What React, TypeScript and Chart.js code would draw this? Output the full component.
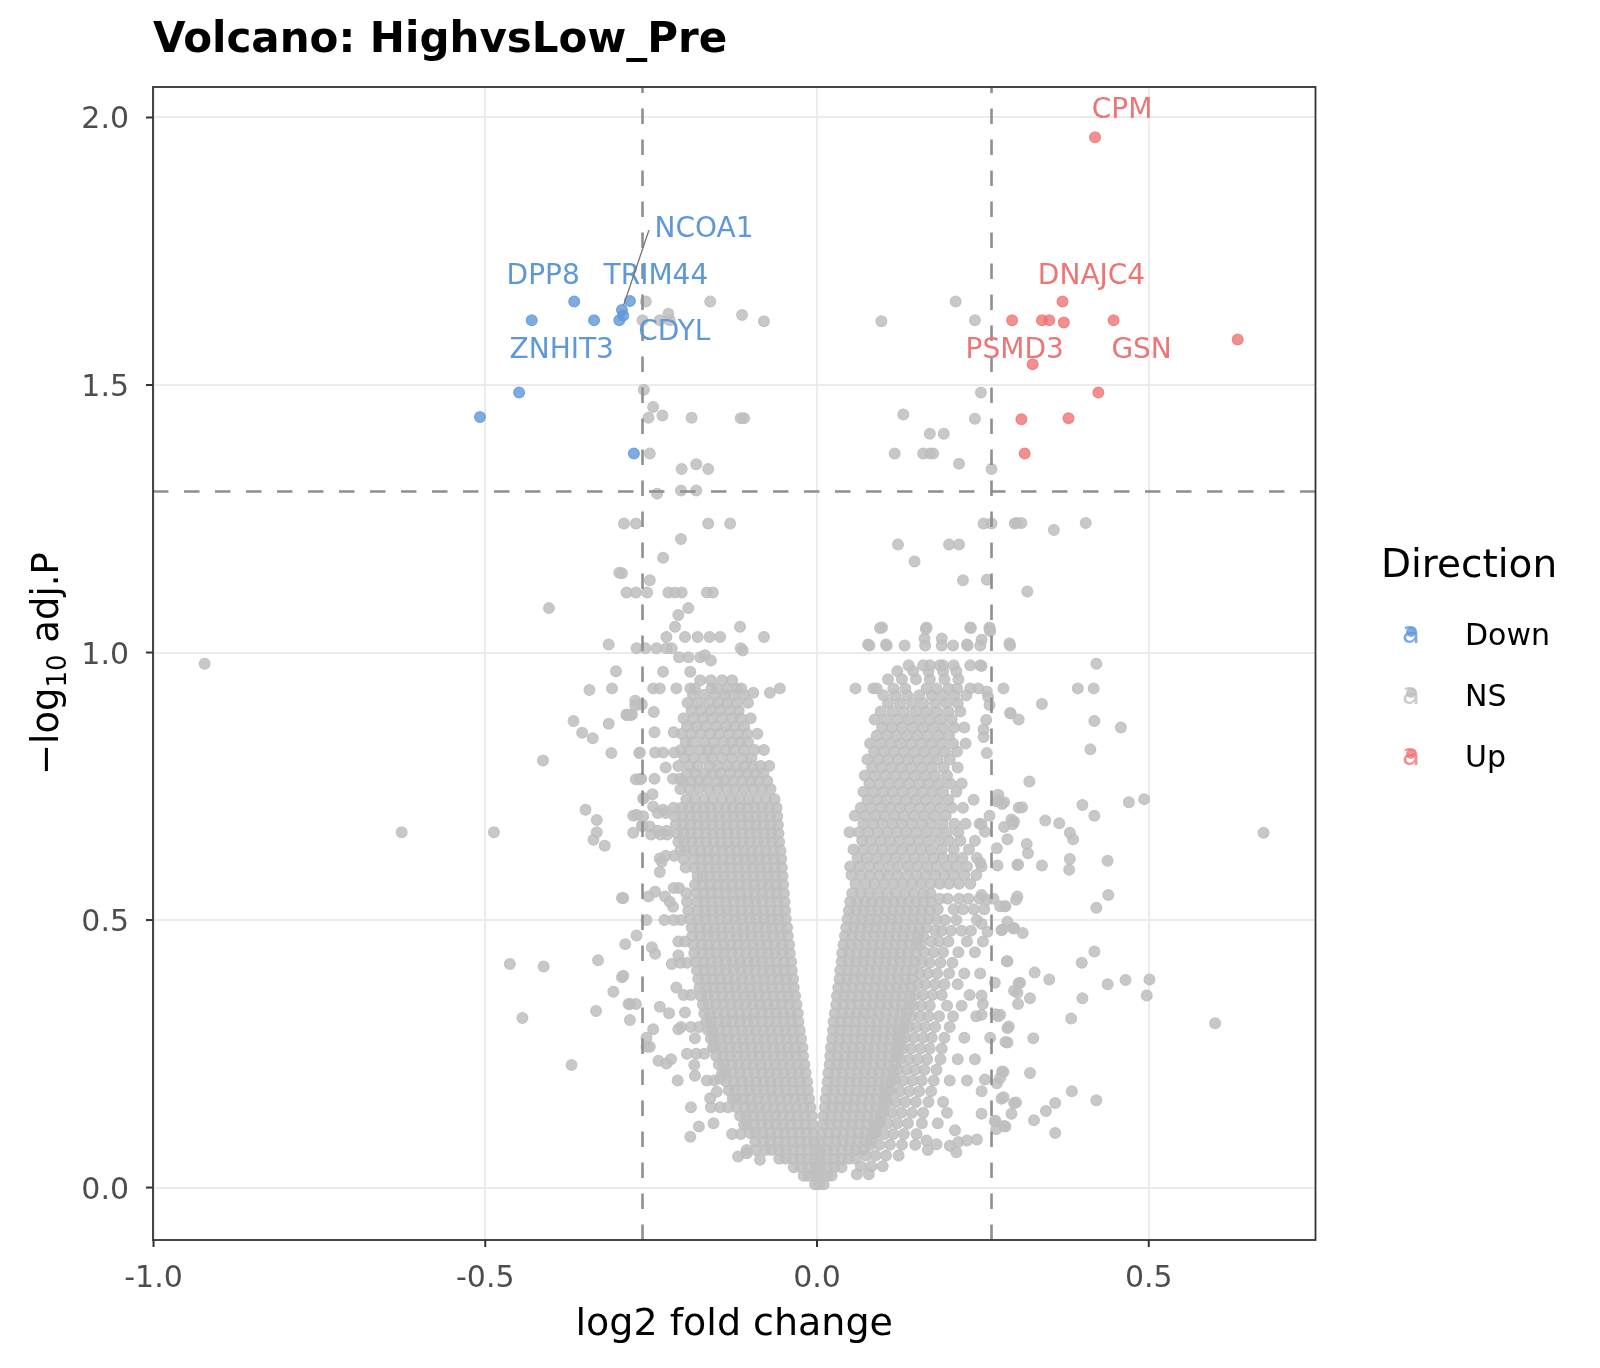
import React, { useEffect, useRef } from "react";
import { Chart, registerables } from "chart.js";

Chart.register(...registerables);

const CANVAS_W = 1600;
const CANVAS_H = 1368;

const plotTitle = "Volcano: HighvsLow_Pre";
const xAxisTitle = "log2 fold change";
const legendTitle = "Direction";
const directionLevels = ["Down", "NS", "Up"];

const xRange = [-1.0008, 0.7513];
const yRange = [-0.098, 2.057];
const xTickValues = [-1.0, -0.5, 0.0, 0.5];
const yTickValues = [0.0, 0.5, 1.0, 1.5, 2.0];

const log2FcCutoff = 0.263;
const adjPCutoff = 1.301;

// significant genes: [log2 fold change, -log10 adj.P]
const downPoints: [number, number][] = [
  [-0.366, 1.656], [-0.430, 1.621], [-0.336, 1.621], [-0.298, 1.621], [-0.294, 1.640],
  [-0.292, 1.630], [-0.282, 1.657], [-0.449, 1.486], [-0.508, 1.440], [-0.276, 1.372],
];
const upPoints: [number, number][] = [
  [0.419, 1.963], [0.370, 1.656], [0.294, 1.621], [0.339, 1.621], [0.350, 1.621],
  [0.372, 1.617], [0.447, 1.621], [0.634, 1.585], [0.325, 1.539], [0.424, 1.486],
  [0.379, 1.438], [0.308, 1.436], [0.313, 1.372],
];

// labelled genes and the point each one names
const labelGenes = ["DPP8", "ZNHIT3", "TRIM44", "NCOA1", "CDYL", "CPM", "DNAJC4", "PSMD3", "GSN"];
const labelDirection = ["Down", "Down", "Down", "Down", "Down", "Up", "Up", "Up", "Up"];
const labelPointIndex = [0, 1, 6, 4, 3, 0, 1, 8, 6];

// non-significant genes, scattered ones: [log2 fold change, -log10 adj.P]
const nsScatter: [number, number][] = [
  [-0.258, 1.656], [-0.161, 1.656], [-0.224, 1.633], [-0.237, 1.621], [-0.222, 1.621], [-0.263, 1.621],
  [-0.113, 1.631], [-0.080, 1.619], [0.097, 1.619], [0.209, 1.656], [0.238, 1.621],
  [-0.261, 1.491], [-0.247, 1.459], [-0.254, 1.439], [-0.233, 1.443], [-0.189, 1.439], [-0.115, 1.438],
  [-0.110, 1.438], [-0.252, 1.372], [-0.204, 1.343], [-0.182, 1.352], [-0.164, 1.343],
  [0.247, 1.486], [0.130, 1.445], [0.238, 1.437], [0.170, 1.409], [0.191, 1.409], [0.117, 1.372],
  [0.160, 1.372], [0.170, 1.372], [0.175, 1.372], [0.214, 1.353], [0.263, 1.343],
  [-0.241, 1.297], [-0.205, 1.303], [-0.182, 1.303],
  [-0.291, 1.241], [-0.273, 1.241], [-0.164, 1.241], [-0.131, 1.241], [-0.205, 1.212], [-0.232, 1.177],
  [-0.294, 1.148], [-0.252, 1.135], [-0.287, 1.112], [-0.273, 1.112], [-0.256, 1.112], [-0.224, 1.112],
  [-0.214, 1.112], [-0.204, 1.112], [-0.166, 1.112], [-0.157, 1.112], [-0.194, 1.083], [-0.209, 1.070],
  [-0.214, 1.048], [-0.116, 1.048], [-0.227, 1.029], [-0.199, 1.029], [-0.180, 1.029], [-0.162, 1.029],
  [-0.146, 1.029], [-0.080, 1.029], [-0.272, 1.008], [-0.259, 1.008], [-0.242, 1.008], [-0.227, 1.008],
  [-0.219, 1.008], [-0.115, 1.008], [-0.112, 1.004], [-0.208, 0.991], [-0.194, 0.991], [-0.176, 0.991],
  [-0.169, 0.995], [-0.160, 0.985], [-0.232, 0.964], [-0.191, 0.964],
  [-0.247, 0.933], [-0.237, 0.933], [-0.212, 0.933], [-0.191, 0.933], [-0.184, 0.933], [-0.159, 0.933],
  [-0.151, 0.933], [-0.136, 0.933], [-0.121, 0.933], [-0.114, 0.933], [-0.096, 0.925], [-0.071, 0.925],
  [-0.056, 0.933],
  [-0.923, 0.979], [-0.404, 1.083], [-0.298, 1.149], [-0.314, 1.015], [-0.303, 0.965], [-0.343, 0.930],
  [-0.309, 0.933], [-0.287, 0.883], [-0.281, 0.883], [-0.264, 0.903], [-0.367, 0.872], [-0.354, 0.850],
  [-0.338, 0.840], [-0.314, 0.867], [-0.413, 0.798], [-0.310, 0.812], [-0.268, 0.812], [-0.273, 0.763],
  [-0.267, 0.763], [-0.262, 0.727], [-0.349, 0.706], [-0.332, 0.687], [-0.332, 0.664], [-0.337, 0.650],
  [-0.320, 0.639], [-0.626, 0.664], [-0.487, 0.664], [-0.277, 0.695], [-0.264, 0.677], [-0.277, 0.663],
  [-0.294, 0.541], [-0.272, 0.471], [-0.289, 0.455], [-0.463, 0.418], [-0.412, 0.413], [-0.330, 0.425],
  [-0.294, 0.393], [-0.307, 0.366], [-0.282, 0.343], [-0.273, 0.343], [-0.282, 0.313], [-0.333, 0.330],
  [-0.444, 0.317], [-0.370, 0.229], [-0.257, 0.280], [-0.257, 0.263],
  [-0.287, 0.884], [-0.279, 0.884], [-0.274, 0.910], [-0.274, 0.901], [-0.246, 0.889], [-0.245, 0.851],
  [-0.216, 0.851], [-0.267, 0.813], [-0.244, 0.813], [-0.232, 0.813], [-0.215, 0.813], [-0.228, 0.785],
  [-0.265, 0.764], [-0.245, 0.764], [-0.217, 0.764], [-0.207, 0.764], [-0.261, 0.728], [-0.248, 0.735],
  [-0.247, 0.712], [-0.232, 0.706], [-0.272, 0.697], [-0.262, 0.694], [-0.252, 0.675], [-0.263, 0.675],
  [-0.240, 0.667], [-0.227, 0.667], [-0.237, 0.615], [-0.234, 0.609], [-0.237, 0.590], [-0.292, 0.541],
  [-0.254, 0.544], [-0.244, 0.553], [-0.229, 0.544], [-0.222, 0.534], [-0.217, 0.525], [-0.257, 0.500],
  [-0.249, 0.449], [-0.244, 0.437], [-0.219, 0.418], [-0.209, 0.434], [-0.292, 0.396], [-0.212, 0.374],
  [-0.284, 0.343], [-0.237, 0.338], [-0.223, 0.326], [-0.199, 0.327], [-0.209, 0.296], [-0.247, 0.296],
  [-0.252, 0.263], [-0.239, 0.237], [-0.227, 0.232], [-0.184, 0.279], [-0.185, 0.229], [-0.184, 0.209],
  [-0.161, 0.167], [-0.151, 0.179], [-0.146, 0.204], [-0.191, 0.095], [-0.178, 0.114], [-0.156, 0.120],
  [-0.119, 0.058], [-0.106, 0.064], [-0.086, 0.052], [-0.220, 0.240], [-0.210, 0.200], [-0.190, 0.150],
  [0.256, 1.136], [0.317, 1.114], [0.260, 1.044], [0.248, 1.024], [0.290, 1.017], [0.248, 0.975],
  [0.421, 0.979], [0.281, 0.933], [0.393, 0.933], [0.417, 0.933], [0.256, 0.927], [0.258, 0.917],
  [0.339, 0.904], [0.260, 0.902], [0.291, 0.887], [0.304, 0.875], [0.418, 0.872], [0.458, 0.860],
  [0.255, 0.874], [0.251, 0.856], [0.251, 0.842], [0.412, 0.819], [0.256, 0.812], [0.320, 0.759],
  [0.273, 0.734], [0.270, 0.722], [0.282, 0.720], [0.309, 0.711], [0.400, 0.715], [0.470, 0.720],
  [0.493, 0.726], [0.418, 0.695], [0.673, 0.663], [0.260, 0.695], [0.248, 0.679], [0.293, 0.688],
  [0.295, 0.679], [0.282, 0.674], [0.344, 0.686], [0.365, 0.681], [0.253, 0.665], [0.381, 0.663],
  [0.386, 0.651], [0.287, 0.651], [0.316, 0.642], [0.318, 0.625], [0.271, 0.634], [0.381, 0.614],
  [0.380, 0.594], [0.438, 0.611], [0.246, 0.607], [0.272, 0.602], [0.303, 0.604], [0.339, 0.602],
  [0.439, 0.547], [0.421, 0.523], [0.248, 0.547], [0.256, 0.538], [0.266, 0.540], [0.276, 0.526],
  [0.283, 0.526], [0.300, 0.538], [0.248, 0.493], [0.257, 0.478], [0.278, 0.481], [0.287, 0.497],
  [0.296, 0.484], [0.310, 0.476], [0.418, 0.441], [0.399, 0.420], [0.286, 0.423], [0.328, 0.402],
  [0.350, 0.389], [0.306, 0.383], [0.297, 0.368], [0.268, 0.383], [0.438, 0.380], [0.465, 0.388],
  [0.501, 0.389], [0.497, 0.359], [0.321, 0.354], [0.303, 0.343], [0.400, 0.354], [0.600, 0.307],
  [0.383, 0.316], [0.276, 0.323], [0.273, 0.320], [0.287, 0.298], [0.248, 0.359], [0.250, 0.343],
  [0.248, 0.323], [0.261, 0.280], [0.287, 0.271], [0.326, 0.279], [0.281, 0.216], [0.276, 0.205],
  [0.321, 0.214], [0.253, 0.202], [0.248, 0.180], [0.384, 0.180], [0.421, 0.163], [0.278, 0.166],
  [0.300, 0.159], [0.359, 0.158], [0.345, 0.143], [0.293, 0.138], [0.327, 0.126], [0.359, 0.102],
  [0.268, 0.124], [0.282, 0.115], [0.270, 0.109], [0.248, 0.138],
  [0.292, 0.886], [0.274, 0.724], [0.279, 0.717], [0.304, 0.710], [0.297, 0.684], [0.302, 0.603],
  [0.284, 0.526], [0.302, 0.544], [0.279, 0.482], [0.297, 0.485], [0.287, 0.423], [0.304, 0.382],
  [0.302, 0.364], [0.269, 0.324], [0.289, 0.301], [0.284, 0.272], [0.279, 0.217], [0.271, 0.195],
  [0.281, 0.169], [0.297, 0.158], [0.269, 0.125], [0.284, 0.114],
  [0.165, 0.088], [0.167, 0.070], [0.180, 0.081], [0.208, 0.107], [0.213, 0.085], [0.226, 0.088],
  [0.241, 0.090], [0.200, 0.078], [0.210, 0.066],
  [0.357, 1.229], [0.405, 1.242], [0.301, 1.242], [0.308, 1.242], [0.298, 1.241], [0.251, 1.241],
  [0.263, 1.241], [0.122, 1.202], [0.199, 1.202], [0.214, 1.202], [0.147, 1.170], [0.220, 1.135],
  [0.098, 1.047], [0.165, 1.047], [0.231, 1.047], [0.260, 1.047],
  [0.079, 1.013], [0.105, 1.013], [0.132, 1.013], [0.163, 1.013], [0.188, 1.013], [0.205, 1.013],
  [0.227, 1.013], [0.246, 1.013], [0.291, 1.013],
  [0.138, 0.976], [0.160, 0.976], [0.170, 0.976], [0.185, 0.976], [0.190, 0.976], [0.206, 0.976],
  [0.231, 0.976], [0.246, 0.976],
  [0.058, 0.933], [0.085, 0.933], [0.090, 0.933], [0.115, 0.933], [0.133, 0.933], [0.165, 0.933],
  [0.180, 0.933], [0.198, 0.933], [0.211, 0.933], [0.231, 0.933], [0.243, 0.933],
  [0.095, 1.046], [0.077, 1.015], [0.104, 1.015], [0.164, 1.044], [0.162, 1.026], [0.188, 1.026],
  [0.226, 1.015], [0.232, 1.046], [0.261, 1.040],
];

// dense non-significant genes, one row per -log10 adj.P level: [y, x, x, ...]
const nsLeftArmRows: number[][] = [
  [0.006, -0.003],
  [0.022, -0.002, -0.013, -0.020],
  [0.038, -0.002, -0.013, -0.024, -0.035],
  [0.054, -0.003, -0.014, -0.025, -0.036, -0.047, -0.057],
  [0.070, -0.003, -0.014, -0.025, -0.036, -0.047, -0.058, -0.069, -0.078],
  [0.086, -0.004, -0.015, -0.026, -0.037, -0.048, -0.059, -0.070, -0.081, -0.093],
  [0.102, -0.005, -0.016, -0.027, -0.038, -0.049, -0.060, -0.071, -0.082, -0.093, -0.101],
  [0.118, -0.007, -0.018, -0.029, -0.040, -0.051, -0.062, -0.073, -0.084, -0.095, -0.106, -0.110],
  [0.134, -0.008, -0.019, -0.030, -0.041, -0.052, -0.063, -0.074, -0.085, -0.096, -0.107, -0.116],
  [0.150, -0.010, -0.021, -0.032, -0.043, -0.054, -0.065, -0.076, -0.087, -0.098, -0.109, -0.121],
  [0.166, -0.012, -0.023, -0.034, -0.045, -0.056, -0.067, -0.078, -0.089, -0.100, -0.111, -0.122, -0.127],
  [0.182, -0.014, -0.025, -0.036, -0.047, -0.058, -0.069, -0.080, -0.091, -0.102, -0.113, -0.124, -0.133],
  [0.198, -0.015, -0.026, -0.037, -0.048, -0.059, -0.070, -0.081, -0.092, -0.103, -0.114, -0.125, -0.137],
  [0.214, -0.017, -0.028, -0.039, -0.050, -0.061, -0.072, -0.083, -0.094, -0.105, -0.116, -0.127, -0.138, -0.143],
  [0.230, -0.019, -0.030, -0.041, -0.052, -0.063, -0.074, -0.085, -0.096, -0.107, -0.118, -0.129, -0.140, -0.148],
  [0.246, -0.021, -0.032, -0.043, -0.054, -0.065, -0.076, -0.087, -0.098, -0.109, -0.120, -0.131, -0.142, -0.152],
  [0.262, -0.022, -0.033, -0.044, -0.055, -0.066, -0.077, -0.088, -0.099, -0.110, -0.121, -0.132, -0.143, -0.154, -0.157],
  [0.278, -0.024, -0.035, -0.046, -0.057, -0.068, -0.079, -0.090, -0.101, -0.112, -0.123, -0.134, -0.145, -0.156, -0.160],
  [0.294, -0.026, -0.037, -0.048, -0.059, -0.070, -0.081, -0.092, -0.103, -0.114, -0.125, -0.136, -0.147, -0.158, -0.164],
  [0.310, -0.028, -0.039, -0.050, -0.061, -0.072, -0.083, -0.094, -0.105, -0.116, -0.127, -0.138, -0.149, -0.160, -0.167],
  [0.326, -0.029, -0.040, -0.051, -0.062, -0.073, -0.084, -0.095, -0.106, -0.117, -0.128, -0.139, -0.150, -0.161, -0.170],
  [0.342, -0.031, -0.042, -0.053, -0.064, -0.075, -0.086, -0.097, -0.108, -0.119, -0.130, -0.141, -0.152, -0.163, -0.172],
  [0.358, -0.033, -0.044, -0.055, -0.066, -0.077, -0.088, -0.099, -0.110, -0.121, -0.132, -0.143, -0.154, -0.165, -0.175],
  [0.374, -0.035, -0.046, -0.057, -0.068, -0.079, -0.090, -0.101, -0.112, -0.123, -0.134, -0.145, -0.156, -0.167, -0.177],
  [0.390, -0.036, -0.047, -0.058, -0.069, -0.080, -0.091, -0.102, -0.113, -0.124, -0.135, -0.146, -0.157, -0.168, -0.179],
  [0.406, -0.038, -0.049, -0.060, -0.071, -0.082, -0.093, -0.104, -0.115, -0.126, -0.137, -0.148, -0.159, -0.170, -0.181],
  [0.422, -0.039, -0.050, -0.061, -0.072, -0.083, -0.094, -0.105, -0.116, -0.127, -0.138, -0.149, -0.160, -0.171, -0.183],
  [0.438, -0.041, -0.052, -0.063, -0.074, -0.085, -0.096, -0.107, -0.118, -0.129, -0.140, -0.151, -0.162, -0.173, -0.185],
  [0.454, -0.042, -0.053, -0.064, -0.075, -0.086, -0.097, -0.108, -0.119, -0.130, -0.141, -0.152, -0.163, -0.174, -0.186],
  [0.470, -0.044, -0.055, -0.066, -0.077, -0.088, -0.099, -0.110, -0.121, -0.132, -0.143, -0.154, -0.165, -0.176, -0.188],
  [0.486, -0.045, -0.056, -0.067, -0.078, -0.089, -0.100, -0.111, -0.122, -0.133, -0.144, -0.155, -0.166, -0.177, -0.189],
  [0.502, -0.047, -0.058, -0.069, -0.080, -0.091, -0.102, -0.113, -0.124, -0.135, -0.146, -0.157, -0.168, -0.179, -0.192],
  [0.518, -0.048, -0.059, -0.070, -0.081, -0.092, -0.103, -0.114, -0.125, -0.136, -0.147, -0.158, -0.169, -0.180, -0.194],
  [0.534, -0.049, -0.060, -0.071, -0.082, -0.093, -0.104, -0.115, -0.126, -0.137, -0.148, -0.159, -0.170, -0.181, -0.196],
  [0.550, -0.050, -0.061, -0.072, -0.083, -0.094, -0.105, -0.116, -0.127, -0.138, -0.149, -0.160, -0.171, -0.182, -0.197],
  [0.566, -0.051, -0.062, -0.073, -0.084, -0.095, -0.106, -0.117, -0.128, -0.139, -0.150, -0.161, -0.172, -0.184],
  [0.582, -0.052, -0.063, -0.074, -0.085, -0.096, -0.107, -0.118, -0.129, -0.140, -0.151, -0.162, -0.173, -0.180],
  [0.598, -0.053, -0.064, -0.075, -0.086, -0.097, -0.108, -0.119, -0.130, -0.141, -0.152, -0.163, -0.174, -0.185, -0.198],
  [0.614, -0.054, -0.065, -0.076, -0.087, -0.098, -0.109, -0.120, -0.131, -0.142, -0.153, -0.164, -0.175, -0.186, -0.201],
  [0.630, -0.055, -0.066, -0.077, -0.088, -0.099, -0.110, -0.121, -0.132, -0.143, -0.154, -0.165, -0.176, -0.187, -0.198, -0.206],
  [0.646, -0.057, -0.068, -0.079, -0.090, -0.101, -0.112, -0.123, -0.134, -0.145, -0.156, -0.167, -0.178, -0.189, -0.200, -0.209],
  [0.662, -0.058, -0.069, -0.080, -0.091, -0.102, -0.113, -0.124, -0.135, -0.146, -0.157, -0.168, -0.179, -0.190, -0.201, -0.211],
  [0.678, -0.059, -0.070, -0.081, -0.092, -0.103, -0.114, -0.125, -0.136, -0.147, -0.158, -0.169, -0.180, -0.191, -0.202, -0.213],
  [0.694, -0.060, -0.071, -0.082, -0.093, -0.104, -0.115, -0.126, -0.137, -0.148, -0.159, -0.170, -0.181, -0.192, -0.203, -0.214],
  [0.710, -0.061, -0.072, -0.083, -0.094, -0.105, -0.116, -0.127, -0.138, -0.149, -0.160, -0.171, -0.182, -0.193, -0.204, -0.216],
  [0.726, -0.064, -0.077, -0.090, -0.103, -0.117, -0.130, -0.143, -0.157, -0.170, -0.184, -0.197],
];

const nsLeftUpperRows: number[][] = [
  [0.745, -0.070, -0.083, -0.096, -0.110, -0.124, -0.136, -0.150, -0.163, -0.178, -0.192, -0.206],
  [0.760, -0.203, -0.190, -0.178, -0.166, -0.150, -0.139, -0.126, -0.112, -0.100, -0.088, -0.075],
  [0.774, -0.196, -0.183, -0.170, -0.158, -0.146, -0.131, -0.118, -0.105, -0.093, -0.081],
  [0.788, -0.209, -0.192, -0.180, -0.162, -0.150, -0.135, -0.121, -0.109, -0.097, -0.085, -0.072],
  [0.803, -0.200, -0.186, -0.171, -0.159, -0.143, -0.128, -0.112, -0.099],
  [0.818, -0.205, -0.193, -0.176, -0.164, -0.153, -0.137, -0.125, -0.110, -0.094, -0.080],
  [0.833, -0.198, -0.187, -0.170, -0.156, -0.141, -0.128, -0.116, -0.104],
  [0.848, -0.204, -0.190, -0.175, -0.161, -0.148, -0.133, -0.119, -0.106, -0.090],
  [0.862, -0.196, -0.182, -0.168, -0.152, -0.137, -0.124, -0.110],
  [0.877, -0.201, -0.186, -0.172, -0.158, -0.143, -0.128, -0.115, -0.100],
  [0.892, -0.189, -0.175, -0.160, -0.146, -0.131, -0.118],
  [0.906, -0.195, -0.180, -0.163, -0.149, -0.135, -0.121, -0.104],
  [0.921, -0.187, -0.170, -0.153, -0.139, -0.125, -0.110],
  [0.948, -0.176, -0.160, -0.143, -0.128],
];

const nsLeftFringeRows: number[][] = [
  [0.700, -0.228, -0.240],
  [0.660, -0.226, -0.236, -0.250],
  [0.620, -0.215, -0.228],
  [0.560, -0.208, -0.216],
  [0.500, -0.205, -0.216, -0.230],
  [0.460, -0.199, -0.209],
  [0.420, -0.196, -0.206],
  [0.360, -0.190, -0.201],
  [0.300, -0.178, -0.190, -0.205],
  [0.250, -0.170, -0.182, -0.196],
  [0.200, -0.155, -0.166],
  [0.150, -0.134, -0.146, -0.160],
  [0.100, -0.115, -0.128],
  [0.070, -0.092, -0.106],
];

const nsRightArmRows: number[][] = [
  [0.006, 0.003, 0.010],
  [0.022, 0.004, 0.015, 0.022],
  [0.038, 0.004, 0.015, 0.026, 0.037],
  [0.054, 0.004, 0.015, 0.026, 0.037, 0.048, 0.058],
  [0.070, 0.004, 0.015, 0.026, 0.037, 0.048, 0.059, 0.070],
  [0.086, 0.006, 0.017, 0.028, 0.039, 0.050, 0.061, 0.072, 0.081],
  [0.102, 0.007, 0.018, 0.029, 0.040, 0.051, 0.062, 0.073, 0.084, 0.088],
  [0.118, 0.009, 0.020, 0.031, 0.042, 0.053, 0.064, 0.075, 0.086, 0.092],
  [0.134, 0.010, 0.021, 0.032, 0.043, 0.054, 0.065, 0.076, 0.087, 0.096],
  [0.150, 0.012, 0.023, 0.034, 0.045, 0.056, 0.067, 0.078, 0.089, 0.100],
  [0.166, 0.013, 0.024, 0.035, 0.046, 0.057, 0.068, 0.079, 0.090, 0.101, 0.104],
  [0.182, 0.015, 0.026, 0.037, 0.048, 0.059, 0.070, 0.081, 0.092, 0.103, 0.108],
  [0.198, 0.016, 0.027, 0.038, 0.049, 0.060, 0.071, 0.082, 0.093, 0.104, 0.112],
  [0.214, 0.017, 0.028, 0.039, 0.050, 0.061, 0.072, 0.083, 0.094, 0.105, 0.115],
  [0.230, 0.019, 0.030, 0.041, 0.052, 0.063, 0.074, 0.085, 0.096, 0.107, 0.118],
  [0.246, 0.020, 0.031, 0.042, 0.053, 0.064, 0.075, 0.086, 0.097, 0.108, 0.119, 0.121],
  [0.262, 0.021, 0.032, 0.043, 0.054, 0.065, 0.076, 0.087, 0.098, 0.109, 0.120, 0.124],
  [0.278, 0.023, 0.034, 0.045, 0.056, 0.067, 0.078, 0.089, 0.100, 0.111, 0.122, 0.127],
  [0.294, 0.024, 0.035, 0.046, 0.057, 0.068, 0.079, 0.090, 0.101, 0.112, 0.123, 0.130],
  [0.310, 0.025, 0.036, 0.047, 0.058, 0.069, 0.080, 0.091, 0.102, 0.113, 0.124, 0.133],
  [0.326, 0.027, 0.038, 0.049, 0.060, 0.071, 0.082, 0.093, 0.104, 0.115, 0.126, 0.136],
  [0.342, 0.029, 0.040, 0.051, 0.062, 0.073, 0.084, 0.095, 0.106, 0.117, 0.128, 0.139],
  [0.358, 0.030, 0.041, 0.052, 0.063, 0.074, 0.085, 0.096, 0.107, 0.118, 0.129, 0.140],
  [0.374, 0.032, 0.043, 0.054, 0.065, 0.076, 0.087, 0.098, 0.109, 0.120, 0.131, 0.142],
  [0.390, 0.034, 0.045, 0.056, 0.067, 0.078, 0.089, 0.100, 0.111, 0.122, 0.133, 0.144],
  [0.406, 0.035, 0.046, 0.057, 0.068, 0.079, 0.090, 0.101, 0.112, 0.123, 0.134, 0.145],
  [0.422, 0.037, 0.048, 0.059, 0.070, 0.081, 0.092, 0.103, 0.114, 0.125, 0.136, 0.147],
  [0.438, 0.038, 0.049, 0.060, 0.071, 0.082, 0.093, 0.104, 0.115, 0.126, 0.137, 0.149],
  [0.454, 0.040, 0.051, 0.062, 0.073, 0.084, 0.095, 0.106, 0.117, 0.128, 0.139, 0.150, 0.156],
  [0.470, 0.042, 0.053, 0.064, 0.075, 0.086, 0.097, 0.108, 0.119, 0.130, 0.141, 0.152, 0.160],
  [0.486, 0.044, 0.055, 0.066, 0.077, 0.088, 0.099, 0.110, 0.121, 0.132, 0.143, 0.154, 0.165],
  [0.502, 0.046, 0.057, 0.068, 0.079, 0.090, 0.101, 0.112, 0.123, 0.134, 0.145, 0.156, 0.168],
  [0.518, 0.048, 0.059, 0.070, 0.081, 0.092, 0.103, 0.114, 0.125, 0.136, 0.147, 0.158, 0.170],
  [0.534, 0.050, 0.061, 0.072, 0.083, 0.094, 0.105, 0.116, 0.127, 0.138, 0.149, 0.160, 0.172],
  [0.550, 0.053, 0.066, 0.079, 0.092, 0.106, 0.119, 0.133, 0.146, 0.160, 0.171],
];

const nsRightUpperRows: number[][] = [
  [0.568, 0.058, 0.073, 0.087, 0.101, 0.115, 0.129, 0.143, 0.157, 0.171, 0.185, 0.199, 0.214, 0.231],
  [0.584, 0.052, 0.066, 0.080, 0.094, 0.107, 0.121, 0.136, 0.150, 0.164, 0.178, 0.192, 0.206, 0.222, 0.240],
  [0.600, 0.050, 0.064, 0.079, 0.093, 0.108, 0.122, 0.137, 0.151, 0.166, 0.180, 0.196, 0.210, 0.226, 0.248],
  [0.616, 0.061, 0.075, 0.090, 0.104, 0.118, 0.133, 0.147, 0.162, 0.176, 0.190, 0.205, 0.219, 0.241],
  [0.632, 0.055, 0.070, 0.085, 0.099, 0.113, 0.128, 0.142, 0.157, 0.172, 0.188, 0.206, 0.229],
  [0.648, 0.068, 0.081, 0.096, 0.110, 0.124, 0.139, 0.153, 0.168, 0.184, 0.199, 0.216, 0.238],
  [0.664, 0.049, 0.063, 0.077, 0.092, 0.106, 0.121, 0.135, 0.150, 0.165, 0.180, 0.196, 0.213],
  [0.680, 0.070, 0.085, 0.099, 0.114, 0.128, 0.143, 0.158, 0.172, 0.189, 0.207, 0.224, 0.245],
  [0.695, 0.057, 0.073, 0.088, 0.102, 0.117, 0.131, 0.146, 0.161, 0.177, 0.194],
  [0.710, 0.066, 0.081, 0.096, 0.110, 0.125, 0.140, 0.155, 0.170, 0.186, 0.203, 0.220],
  [0.725, 0.076, 0.091, 0.105, 0.120, 0.134, 0.149, 0.164, 0.181, 0.198, 0.236],
  [0.740, 0.070, 0.085, 0.100, 0.114, 0.129, 0.144, 0.159, 0.174, 0.190, 0.210],
  [0.755, 0.079, 0.094, 0.108, 0.123, 0.139, 0.154, 0.168, 0.184, 0.201, 0.218],
  [0.770, 0.072, 0.088, 0.103, 0.118, 0.133, 0.148, 0.163, 0.178, 0.196],
  [0.785, 0.083, 0.097, 0.112, 0.127, 0.142, 0.158, 0.173, 0.191, 0.212],
  [0.800, 0.076, 0.092, 0.107, 0.122, 0.137, 0.152, 0.167, 0.182, 0.200],
  [0.815, 0.086, 0.101, 0.116, 0.131, 0.147, 0.162, 0.177, 0.193, 0.211],
  [0.830, 0.080, 0.096, 0.111, 0.126, 0.142, 0.157, 0.172, 0.188, 0.205, 0.224],
  [0.845, 0.090, 0.105, 0.120, 0.136, 0.151, 0.166, 0.183, 0.199],
  [0.860, 0.098, 0.113, 0.128, 0.144, 0.160, 0.175, 0.190, 0.207, 0.222],
  [0.875, 0.087, 0.104, 0.121, 0.138, 0.154, 0.170, 0.186, 0.203],
  [0.890, 0.096, 0.114, 0.131, 0.149, 0.165, 0.181, 0.198, 0.216],
  [0.905, 0.107, 0.125, 0.143, 0.160, 0.178, 0.195, 0.212],
  [0.920, 0.100, 0.118, 0.136, 0.154, 0.173, 0.190, 0.207, 0.225],
  [0.950, 0.107, 0.128, 0.149, 0.170, 0.192, 0.213],
  [0.965, 0.121, 0.145, 0.168, 0.190, 0.210],
];

const nsRightFringeRows: number[][] = [
  [0.540, 0.185, 0.197, 0.214, 0.228, 0.245],
  [0.520, 0.182, 0.206, 0.220, 0.236, 0.252],
  [0.500, 0.180, 0.193, 0.210, 0.241],
  [0.480, 0.178, 0.188, 0.202, 0.218, 0.232],
  [0.460, 0.172, 0.184, 0.198, 0.226, 0.250],
  [0.440, 0.162, 0.176, 0.190, 0.213, 0.238],
  [0.420, 0.158, 0.170, 0.186, 0.204],
  [0.400, 0.155, 0.167, 0.181, 0.199, 0.222, 0.246],
  [0.380, 0.152, 0.163, 0.178, 0.192, 0.212],
  [0.360, 0.148, 0.160, 0.174, 0.188, 0.230],
  [0.340, 0.145, 0.157, 0.170, 0.196, 0.218],
  [0.320, 0.142, 0.155, 0.168, 0.184, 0.205, 0.240],
  [0.300, 0.138, 0.150, 0.163, 0.178, 0.200],
  [0.280, 0.133, 0.146, 0.160, 0.173, 0.192, 0.222],
  [0.260, 0.130, 0.142, 0.156, 0.170, 0.188],
  [0.240, 0.126, 0.139, 0.152, 0.166, 0.186, 0.212, 0.238],
  [0.220, 0.122, 0.135, 0.148, 0.162, 0.180],
  [0.200, 0.118, 0.130, 0.144, 0.158, 0.176, 0.200, 0.226],
  [0.180, 0.112, 0.125, 0.139, 0.154, 0.172],
  [0.160, 0.106, 0.119, 0.133, 0.149, 0.168, 0.190],
  [0.140, 0.100, 0.113, 0.127, 0.143, 0.160, 0.196],
  [0.120, 0.094, 0.107, 0.121, 0.137, 0.158, 0.182],
  [0.100, 0.088, 0.101, 0.115, 0.131, 0.150],
  [0.080, 0.080, 0.094, 0.110, 0.128, 0.148],
  [0.060, 0.074, 0.088, 0.104, 0.123],
  [0.040, 0.066, 0.082, 0.099],
  [0.025, 0.060, 0.078],
];

// colours and marks
const DOWN_TEXT = "#5e97da";
const UP_TEXT = "#ef7474";
const DOWN_FILL = "rgba(94,151,218,0.8)";
const UP_FILL = "rgba(239,116,116,0.8)";
const NS_FILL = "rgba(190,190,190,0.85)";
const POINT_RADIUS = 5.4;
const POINT_BORDER = 1.2;
const FONT = '"DejaVu Sans"';

// pixel offsets of each gene label from its point
const labelOffsets: [number, number][] = [
  [-31, -28], [30, 28], [26, -27], [82, -83], [55, 10], [27, -29], [29, -28], [-18, -16], [28, 28],
];

const pairsToPoints = (pairs: [number, number][]) => pairs.map(([x, y]) => ({ x, y }));
const rowsToPoints = (rows: number[][]) =>
  rows.flatMap(([y, ...xs]) => xs.map((x) => ({ x, y })));

const volcanoDecor = {
  id: "volcanoDecor",
  beforeDraw(chart: any) {
    const ctx = chart.ctx;
    ctx.save();
    ctx.fillStyle = "#ffffff";
    ctx.fillRect(0, 0, chart.width, chart.height);
    ctx.restore();
  },
  afterDatasetsDraw(chart: any) {
    const ctx: CanvasRenderingContext2D = chart.ctx;
    const a = chart.chartArea;
    const xs = chart.scales.x;
    const ys = chart.scales.y;

    // cut-off lines
    ctx.save();
    ctx.beginPath();
    ctx.rect(a.left, a.top, a.right - a.left, a.bottom - a.top);
    ctx.clip();
    ctx.strokeStyle = "#8f8f8f";
    ctx.lineWidth = 2.6;
    ctx.setLineDash([15.5, 15.5]);
    for (const v of [-log2FcCutoff, log2FcCutoff]) {
      const px = xs.getPixelForValue(v);
      ctx.beginPath();
      ctx.moveTo(px, a.bottom);
      ctx.lineTo(px, a.top);
      ctx.stroke();
    }
    const hy = ys.getPixelForValue(adjPCutoff);
    ctx.beginPath();
    ctx.moveTo(a.left, hy);
    ctx.lineTo(a.right, hy);
    ctx.stroke();
    ctx.restore();

    // gene labels
    ctx.save();
    ctx.font = `28px ${FONT}`;
    ctx.textAlign = "center";
    ctx.textBaseline = "alphabetic";
    labelGenes.forEach((gene, i) => {
      const isDown = labelDirection[i] === "Down";
      const p = (isDown ? downPoints : upPoints)[labelPointIndex[i]];
      const px = xs.getPixelForValue(p[0]);
      const py = ys.getPixelForValue(p[1]);
      const lx = px + labelOffsets[i][0];
      const ly = py + labelOffsets[i][1];
      const dist = Math.hypot(lx - px, ly - py);
      if (dist > 60) {
        const ex = lx - 55;
        const ey = ly + 3;
        const len = Math.hypot(ex - px, ey - py);
        ctx.strokeStyle = "#777777";
        ctx.lineWidth = 1.4;
        ctx.beginPath();
        ctx.moveTo(px + ((ex - px) / len) * 5, py + ((ey - py) / len) * 5);
        ctx.lineTo(ex, ey);
        ctx.stroke();
      }
      ctx.fillStyle = isDown ? DOWN_TEXT : UP_TEXT;
      ctx.fillText(gene, lx, ly + 10);
    });
    ctx.restore();

    // panel border
    ctx.save();
    ctx.strokeStyle = "#333333";
    ctx.lineWidth = 1.8;
    ctx.strokeRect(a.left, a.top, a.right - a.left, a.bottom - a.top);

    // ticks and tick labels
    ctx.lineWidth = 2;
    ctx.fillStyle = "#4d4d4d";
    ctx.font = `30px ${FONT}`;
    ctx.textAlign = "center";
    ctx.textBaseline = "alphabetic";
    for (const v of xTickValues) {
      const px = xs.getPixelForValue(v);
      ctx.beginPath();
      ctx.moveTo(px, a.bottom);
      ctx.lineTo(px, a.bottom + 7);
      ctx.stroke();
      ctx.fillText(v.toFixed(1), px, 1287);
    }
    ctx.textAlign = "right";
    for (const v of yTickValues) {
      const py = ys.getPixelForValue(v);
      ctx.beginPath();
      ctx.moveTo(a.left - 7, py);
      ctx.lineTo(a.left, py);
      ctx.stroke();
      ctx.fillText(v.toFixed(1), 129, py + 11);
    }

    // axis titles
    ctx.fillStyle = "#000000";
    ctx.font = `38px ${FONT}`;
    ctx.textAlign = "center";
    ctx.fillText(xAxisTitle, (a.left + a.right) / 2, 1335);

    ctx.save();
    ctx.translate(58, (a.top + a.bottom) / 2);
    ctx.rotate(-Math.PI / 2);
    const mainFont = `37px ${FONT}`;
    const subFont = `26px ${FONT}`;
    const partA = "\u2212log";
    const partSub = "10";
    const partB = " adj.P";
    ctx.font = mainFont;
    const wA = ctx.measureText(partA).width;
    const wB = ctx.measureText(partB).width;
    ctx.font = subFont;
    const wSub = ctx.measureText(partSub).width;
    let cx = -(wA + wSub + wB) / 2;
    ctx.textAlign = "left";
    ctx.font = mainFont;
    ctx.fillText(partA, cx, 0);
    cx += wA;
    ctx.font = subFont;
    ctx.fillText(partSub, cx, 8);
    cx += wSub;
    ctx.font = mainFont;
    ctx.fillText(partB, cx, 0);
    ctx.restore();

    // title
    ctx.font = `bold 42px ${FONT}`;
    ctx.textAlign = "left";
    ctx.fillStyle = "#000000";
    ctx.fillText(plotTitle, 153, 52);

    // legend
    ctx.font = `39px ${FONT}`;
    ctx.fillText(legendTitle, 1381, 577);
    const keyY = [634, 695, 756];
    const keyFill = [DOWN_FILL, NS_FILL, UP_FILL];
    const keyText = [DOWN_TEXT, "#bebebe", UP_TEXT];
    directionLevels.forEach((lvl, i) => {
      const ky = keyY[i];
      ctx.fillStyle = keyFill[i];
      ctx.beginPath();
      ctx.arc(1411, ky - 2, 5, 0, Math.PI * 2);
      ctx.fill();
      ctx.globalAlpha = 0.8;
      ctx.fillStyle = keyText[i];
      ctx.font = `30px ${FONT}`;
      ctx.textAlign = "center";
      ctx.fillText("a", 1411, ky + 9);
      ctx.globalAlpha = 1;
      ctx.fillStyle = "#000000";
      ctx.font = `30px ${FONT}`;
      ctx.textAlign = "left";
      ctx.fillText(lvl, 1465, ky + 11);
    });
    ctx.restore();
  },
};

export default function App() {
  const canvasRef = useRef<HTMLCanvasElement | null>(null);

  useEffect(() => {
    const canvas = canvasRef.current;
    if (!canvas) return;

    const nsData = [
      ...rowsToPoints(nsLeftArmRows),
      ...rowsToPoints(nsRightArmRows),
      ...rowsToPoints(nsLeftUpperRows),
      ...rowsToPoints(nsRightUpperRows),
      ...rowsToPoints(nsLeftFringeRows),
      ...rowsToPoints(nsRightFringeRows),
      ...pairsToPoints(nsScatter),
    ];

    const pointStyle = {
      pointRadius: POINT_RADIUS,
      pointHoverRadius: POINT_RADIUS,
      pointBorderWidth: POINT_BORDER,
    };

    const chart = new Chart(canvas, {
      type: "scatter",
      data: {
        datasets: [
          {
            label: "NS",
            data: nsData,
            backgroundColor: NS_FILL,
            borderColor: NS_FILL,
            order: 3,
            ...pointStyle,
          },
          {
            label: "Down",
            data: pairsToPoints(downPoints),
            backgroundColor: DOWN_FILL,
            borderColor: DOWN_FILL,
            order: 2,
            ...pointStyle,
          },
          {
            label: "Up",
            data: pairsToPoints(upPoints),
            backgroundColor: UP_FILL,
            borderColor: UP_FILL,
            order: 1,
            ...pointStyle,
          },
        ],
      },
      options: {
        animation: false,
        responsive: false,
        devicePixelRatio: 1,
        events: [],
        layout: { padding: { left: 0, top: 87, right: 284.5, bottom: 0 } },
        plugins: {
          legend: { display: false },
          tooltip: { enabled: false },
          title: { display: false },
        },
        scales: {
          x: {
            type: "linear",
            min: xRange[0],
            max: xRange[1],
            afterBuildTicks: (s: any) => {
              s.ticks = xTickValues.map((v) => ({ value: v }));
            },
            afterFit: (s: any) => {
              s.height = 128;
            },
            grid: { color: "#ebebeb", lineWidth: 2, drawTicks: false },
            border: { display: false },
            ticks: { display: false },
          },
          y: {
            type: "linear",
            min: yRange[0],
            max: yRange[1],
            afterBuildTicks: (s: any) => {
              s.ticks = yTickValues.map((v) => ({ value: v }));
            },
            afterFit: (s: any) => {
              s.width = 153;
            },
            grid: { color: "#ebebeb", lineWidth: 2, drawTicks: false },
            border: { display: false },
            ticks: { display: false },
          },
        },
      },
      plugins: [volcanoDecor],
    });

    return () => chart.destroy();
  }, []);

  return (
    <div style={{ position: "fixed", left: 0, top: 0, width: CANVAS_W, height: CANVAS_H, background: "#fff" }}>
      <canvas ref={canvasRef} width={CANVAS_W} height={CANVAS_H} style={{ display: "block" }} />
    </div>
  );
}
